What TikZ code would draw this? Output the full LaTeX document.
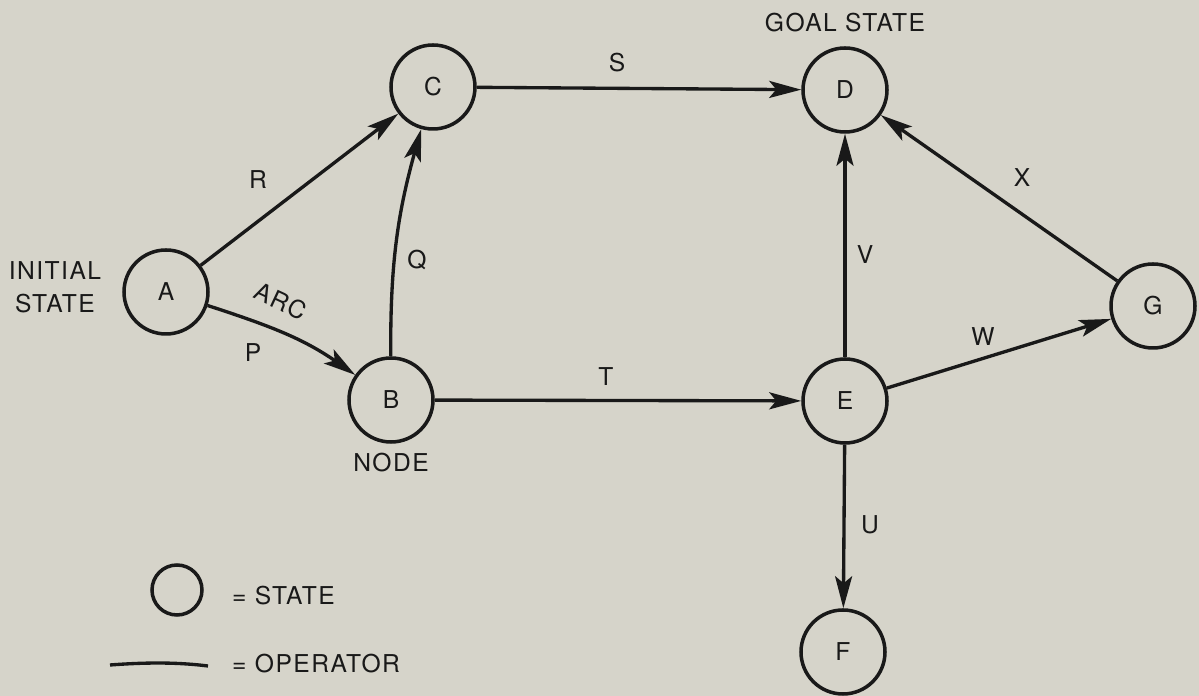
\documentclass[tikz,border=0pt]{standalone}
\usepackage{fontspec}
\setmainfont{TeX Gyre Heros}[LetterSpace=6]
\usepackage{tikz}
\usetikzlibrary{arrows.meta}
\definecolor{paper}{RGB}{214,212,202}
\definecolor{ink}{RGB}{25,25,25}

\begin{document}
\begin{tikzpicture}[
  every node/.style={text=ink, font=\fontsize{14}{19}\selectfont},
  state/.style={circle, draw=ink, line width=2pt, minimum size=1.68cm, inner sep=0pt},
  op/.style={draw=ink, line width=1.9pt, -{Stealth[length=6.4mm, width=3.4mm, inset=1.4mm]}}
]

  \fill[paper] (0,0) rectangle (23.98,13.92);
  \useasboundingbox (0,0) rectangle (23.98,13.92);

  % states
  \node[state] (A) at (3.32,8.08) {A};
  \node[state] (B) at (7.82,5.92) {B};
  \node[state] (C) at (8.66,12.18) {C};
  \node[state] (D) at (16.90,12.12) {D};
  \node[state] (E) at (16.90,5.90) {E};
  \node[state] (F) at (16.86,0.88) {F};
  \node[state] (G) at (23.06,7.80) {G};

  \node[align=center] (init) at (1.10,8.18) {INITIAL\\STATE};
  \node (goal) at (16.90,13.46) {GOAL STATE};
  \node (nodetxt) at (7.82,4.66) {NODE};

  % operators
  \draw[op] (A) -- (C);
  \draw[op] (A) to[out=-18, in=145] (B);
  \draw[op] (B) to[bend left=8] (C);
  \draw[op] (C) -- (D);
  \draw[op] (B) -- (E);
  \draw[op] (E) -- (D);
  \draw[op] (E) -- (F);
  \draw[op] (E) -- (G);
  \draw[op] (G) -- (D);

  \node (labR) at (5.16,10.32) {R};
  \node (labQ) at (8.34,8.72) {Q};
  \node[rotate=-25, inner sep=1pt] (labarc) at (5.62,7.90) {ARC};
  \node (labP) at (5.06,6.86) {P};
  \node (labS) at (12.34,12.66) {S};
  \node (labT) at (12.12,6.38) {T};
  \node (labV) at (17.30,8.82) {V};
  \node (labX) at (20.44,10.36) {X};
  \node (labW) at (19.66,7.18) {W};
  \node (labU) at (17.40,3.42) {U};

  % key
  \node[state, minimum size=1cm] (key) at (3.54,2.12) {};
  \node[anchor=west] (keystate) at (4.52,2.0) {= STATE};
  \coordinate (opl) at (2.2,0.62);
  \coordinate (opr) at (4.16,0.60);
  \draw[ink, line width=1.9pt] (opl) .. controls (3.0,0.68) and (3.6,0.67) .. (opr);
  \node[anchor=west] (keyop) at (4.52,0.64) {= OPERATOR};

\end{tikzpicture}
\end{document}
